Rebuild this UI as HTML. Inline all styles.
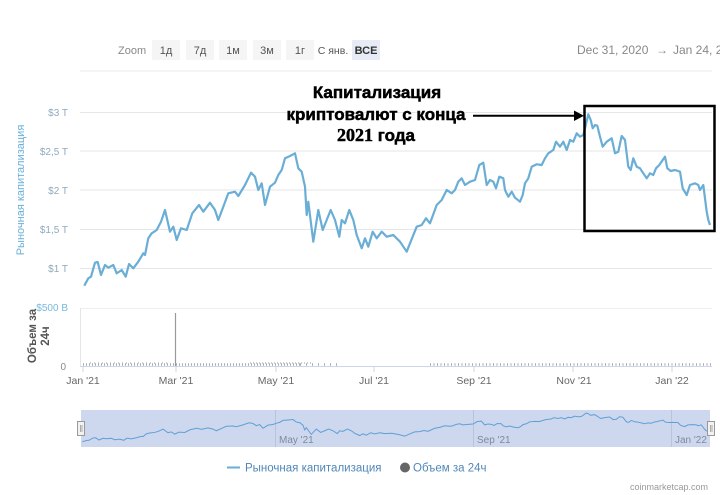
<!DOCTYPE html>
<html><head><meta charset="utf-8">
<style>
html,body{margin:0;padding:0;background:#fff;}
body{width:720px;height:495px;overflow:hidden;}
svg{display:block;font-family:"Liberation Sans","DejaVu Sans",sans-serif;}
</style></head>
<body>
<svg width="720" height="495" viewBox="0 0 720 495" xmlns="http://www.w3.org/2000/svg">
<rect width="720" height="495" fill="#fff"/>
<!-- range selector -->
<text x="118" y="54" font-size="11" fill="#888">Zoom</text>
<rect x="152" y="40" width="28" height="20" fill="#f5f5f5"/>
<text x="166" y="54" font-size="11" fill="#555" text-anchor="middle">1д</text>
<rect x="186" y="40" width="28" height="20" fill="#f5f5f5"/>
<text x="200" y="54" font-size="11" fill="#555" text-anchor="middle">7д</text>
<rect x="219" y="40" width="28" height="20" fill="#f5f5f5"/>
<text x="233" y="54" font-size="11" fill="#555" text-anchor="middle">1м</text>
<rect x="253" y="40" width="28" height="20" fill="#f5f5f5"/>
<text x="267" y="54" font-size="11" fill="#555" text-anchor="middle">3м</text>
<rect x="286" y="40" width="28" height="20" fill="#f5f5f5"/>
<text x="300" y="54" font-size="11" fill="#555" text-anchor="middle">1г</text>
<text x="333" y="54" font-size="10.5" fill="#555" text-anchor="middle">С янв.</text>
<rect x="352" y="40" width="28" height="20" fill="#e6ebf5"/>
<text x="366" y="54" font-size="11" fill="#333" text-anchor="middle" font-weight="bold">ВСЕ</text>
<text x="577" y="54" font-size="12" fill="#888">Dec 31, 2020</text>
<text x="656" y="54" font-size="12" fill="#888">→</text>
<text x="673" y="54" font-size="12" fill="#888">Jan 24, 2</text>
<line x1="80" y1="71" x2="712" y2="71" stroke="#e8e8e8" stroke-width="1"/>

<!-- gridlines -->
<g stroke="#e6e6e6" stroke-width="1">
<line x1="80" y1="112.5" x2="712" y2="112.5"/>
<line x1="80" y1="151" x2="712" y2="151"/>
<line x1="80" y1="190" x2="712" y2="190"/>
<line x1="80" y1="229.5" x2="712" y2="229.5"/>
<line x1="80" y1="268.5" x2="712" y2="268.5"/>
</g>
<g font-size="10" fill="#8fa9bd" text-anchor="end">
<text x="68" y="116">$3 T</text>
<text x="68" y="155">$2,5 T</text>
<text x="68" y="194">$2 T</text>
<text x="68" y="233">$1,5 T</text>
<text x="68" y="272">$1 T</text>
</g>
<text transform="translate(24,190) rotate(-90)" font-size="11" fill="#6ab0da" text-anchor="middle">Рыночная капитализация</text>

<!-- main line -->
<path fill="none" stroke="#6aaed6" stroke-width="2.2" stroke-linejoin="round" d="M84.3,285.7 L88.3,278.3 91,276.7 95,262.7 97.7,262 101,275 105,265 108.3,267.7 113.3,265 116.7,273.3 121.7,270 125.7,276.7 129,264 133.3,268.3 138.3,261.7 143.3,253.3 145,255 148.3,238.3 151.7,233.3 156.7,230 161,221.7 165,210 170,231.7 173.3,226.7 176.7,240 181,228.3 186.7,230 192.3,213.3 199,205 203.3,211.7 210,202.7 215,210 218.3,220 223.3,206.7 228.3,193.3 235,191.7 238.3,196 245,185 251,172.7 255,176.7 258.3,190 261.7,183.3 265,205 270,186.7 275,182.7 278.3,175 281.7,170 285,158.3 290,156 295,153.3 298.3,168.3 301.7,171.7 305,186.7 306.7,215 308.3,201.7 313.3,241.7 318.3,210 322.7,230 326.7,220 330.7,210 335,220 339.3,236.7 341.7,220 345,223.3 349.3,210 353.3,220 356.7,235 361.7,248.3 365,238.3 368.3,246.7 372.7,231.7 376.7,238.3 381.7,231.7 386.7,236.7 393.3,235 400,241.7 406.7,251.7 410,243.3 416.7,226.7 421.7,225 426,218.3 430,223.3 436.7,205 441.7,200 446.7,190 451.7,193.3 455,190 458.3,181.7 461.7,178.3 465,185 470,181.7 475,180 479.3,165 483.3,162.7 486.7,185 490,180 493.3,181.7 496,188.3 499.3,176.7 503.3,178.3 505,190 508.3,196.7 511.7,191.7 515,197.7 520,201.7 522.7,195 525,183.3 528.3,178.3 531.7,166.7 536.7,164.3 541.7,165 545,158.3 548.3,153.3 553.3,150 556,141.7 560,146.7 563.3,141.7 566.7,150 570,140 573.3,141.7 576.7,133.3 580,136.7 583.3,135 585,128.3 588.3,114.3 590.7,120 592.7,128.3 595,125 597.3,125.7 600,136.7 602.7,146.7 606.7,141.7 611.7,138.3 615,153.3 618.3,151.7 621.7,136 625,140 628.3,166.7 630.7,170 633.3,158.3 636.7,166.7 640,168.3 643.3,173.3 646.7,178.3 650,173.3 653.3,175 656,168.3 659.3,165 662.7,160 665,156.7 667.3,168.3 670.7,171 675,170 680,171.7 682.7,188.3 686.7,195 690,185 695,183.3 698.3,185 700,190 703.3,185 706.7,211.7 708.3,220 710,225"/>

<!-- annotation -->
<g font-weight="bold" fill="#000" stroke="#000" stroke-width="0.5" text-anchor="middle">
<text x="377" y="98" font-size="17">Капитализация</text>
<text x="376" y="120" font-size="17">криптовалют с конца</text>
<text x="376" y="141" font-size="17"><tspan font-family="Liberation Serif, serif" font-size="18">2021</tspan> года</text>
</g>
<line x1="473" y1="115.7" x2="576" y2="115.7" stroke="#000" stroke-width="2"/>
<polygon points="574,110.5 584,115.7 574,121" fill="#000"/>
<rect x="584.5" y="106" width="130" height="125" fill="none" stroke="#000" stroke-width="2.5"/>

<!-- volume pane -->
<line x1="80" y1="308.5" x2="712" y2="308.5" stroke="#eeeeee" stroke-width="1"/>
<line x1="80.5" y1="308" x2="80.5" y2="366" stroke="#e6e6e6" stroke-width="1"/>
<text x="68" y="311" font-size="10" fill="#7ab8dd" text-anchor="end">$500 B</text>
<text x="66" y="370" font-size="10" fill="#888" text-anchor="end">0</text>
<text transform="translate(36,336) rotate(-90)" font-size="11.5" fill="#555" font-weight="bold" text-anchor="middle">Объем за</text>
<text transform="translate(49,336) rotate(-90)" font-size="11.5" fill="#555" font-weight="bold" text-anchor="middle">24ч</text>
<line x1="175.5" y1="313" x2="175.5" y2="366" stroke="#999" stroke-width="1.2"/>
<g stroke="#aaa" stroke-width="2.5">
<line x1="83" y1="364.5" x2="300" y2="364.5" stroke-dasharray="1 2"/>
<line x1="300" y1="364.5" x2="340" y2="364.5" stroke-dasharray="1 5"/>
<line x1="430" y1="364.5" x2="712" y2="364.5" stroke-dasharray="1 2.5"/>
</g>
<g stroke="#bbb" stroke-width="1.5">
<line x1="250" y1="363" x2="312" y2="363" stroke-dasharray="1 2"/>
<line x1="90" y1="363" x2="170" y2="363" stroke-dasharray="1 3"/>
</g>
<line x1="80" y1="366.5" x2="712" y2="366.5" stroke="#ccd6eb" stroke-width="1"/>
<g stroke="#ccd6eb" stroke-width="1">
<line x1="83" y1="366" x2="83" y2="372"/>
<line x1="176" y1="366" x2="176" y2="372"/>
<line x1="276" y1="366" x2="276" y2="372"/>
<line x1="374" y1="366" x2="374" y2="372"/>
<line x1="474" y1="366" x2="474" y2="372"/>
<line x1="573" y1="366" x2="573" y2="372"/>
<line x1="672" y1="366" x2="672" y2="372"/>
</g>
<g font-size="10.5" fill="#666" text-anchor="middle">
<text x="83" y="384">Jan '21</text>
<text x="176" y="384">Mar '21</text>
<text x="276" y="384">May '21</text>
<text x="374" y="384">Jul '21</text>
<text x="474" y="384">Sep '21</text>
<text x="574" y="384">Nov '21</text>
<text x="672" y="384">Jan '22</text>
</g>

<!-- navigator -->
<rect x="81" y="410" width="629" height="37" fill="#cdd8ee"/>
<g stroke="#b9c4dc" stroke-width="1">
<line x1="275.5" y1="410" x2="275.5" y2="447"/>
<line x1="473.5" y1="410" x2="473.5" y2="447"/>
<line x1="671.5" y1="410" x2="671.5" y2="447"/>
</g>
<g font-size="10" fill="#7f8a9c">
<text x="279" y="443">May '21</text>
<text x="477" y="443">Sep '21</text>
<text x="675" y="443">Jan '22</text>
</g>
<path fill="none" stroke="#5f9fd6" stroke-width="1" vector-effect="non-scaling-stroke" transform="matrix(1,0,0,0.168,-2,393.8)" d="M84.3,285.7 L88.3,278.3 91,276.7 95,262.7 97.7,262 101,275 105,265 108.3,267.7 113.3,265 116.7,273.3 121.7,270 125.7,276.7 129,264 133.3,268.3 138.3,261.7 143.3,253.3 145,255 148.3,238.3 151.7,233.3 156.7,230 161,221.7 165,210 170,231.7 173.3,226.7 176.7,240 181,228.3 186.7,230 192.3,213.3 199,205 203.3,211.7 210,202.7 215,210 218.3,220 223.3,206.7 228.3,193.3 235,191.7 238.3,196 245,185 251,172.7 255,176.7 258.3,190 261.7,183.3 265,205 270,186.7 275,182.7 278.3,175 281.7,170 285,158.3 290,156 295,153.3 298.3,168.3 301.7,171.7 305,186.7 306.7,215 308.3,201.7 313.3,241.7 318.3,210 322.7,230 326.7,220 330.7,210 335,220 339.3,236.7 341.7,220 345,223.3 349.3,210 353.3,220 356.7,235 361.7,248.3 365,238.3 368.3,246.7 372.7,231.7 376.7,238.3 381.7,231.7 386.7,236.7 393.3,235 400,241.7 406.7,251.7 410,243.3 416.7,226.7 421.7,225 426,218.3 430,223.3 436.7,205 441.7,200 446.7,190 451.7,193.3 455,190 458.3,181.7 461.7,178.3 465,185 470,181.7 475,180 479.3,165 483.3,162.7 486.7,185 490,180 493.3,181.7 496,188.3 499.3,176.7 503.3,178.3 505,190 508.3,196.7 511.7,191.7 515,197.7 520,201.7 522.7,195 525,183.3 528.3,178.3 531.7,166.7 536.7,164.3 541.7,165 545,158.3 548.3,153.3 553.3,150 556,141.7 560,146.7 563.3,141.7 566.7,150 570,140 573.3,141.7 576.7,133.3 580,136.7 583.3,135 585,128.3 588.3,114.3 590.7,120 592.7,128.3 595,125 597.3,125.7 600,136.7 602.7,146.7 606.7,141.7 611.7,138.3 615,153.3 618.3,151.7 621.7,136 625,140 628.3,166.7 630.7,170 633.3,158.3 636.7,166.7 640,168.3 643.3,173.3 646.7,178.3 650,173.3 653.3,175 656,168.3 659.3,165 662.7,160 665,156.7 667.3,168.3 670.7,171 675,170 680,171.7 682.7,188.3 686.7,195 690,185 695,183.3 698.3,185 700,190 703.3,185 706.7,211.7 708.3,220 712,225"/>
<rect x="77.5" y="421.5" width="7" height="14" fill="#f2f2f2" stroke="#999" stroke-width="1"/>
<line x1="80.5" y1="425" x2="80.5" y2="432" stroke="#999" stroke-width="0.8"/>
<line x1="82" y1="425" x2="82" y2="432" stroke="#999" stroke-width="0.8"/>
<rect x="707.5" y="421.5" width="7" height="14" fill="#f2f2f2" stroke="#999" stroke-width="1"/>
<line x1="710.5" y1="425" x2="710.5" y2="432" stroke="#999" stroke-width="0.8"/>
<line x1="712" y1="425" x2="712" y2="432" stroke="#999" stroke-width="0.8"/>

<!-- legend -->
<line x1="227" y1="467.5" x2="240" y2="467.5" stroke="#6aaed6" stroke-width="2"/>
<text x="245" y="471.5" font-size="11.5" fill="#4f87b8">Рыночная капитализация</text>
<circle cx="405" cy="467.5" r="5" fill="#666"/>
<text x="413" y="471.5" font-size="11.5" fill="#4f87b8">Объем за 24ч</text>
<text x="708" y="490" font-size="9" fill="#999" text-anchor="end">coinmarketcap.com</text>
</svg>
</body></html>
